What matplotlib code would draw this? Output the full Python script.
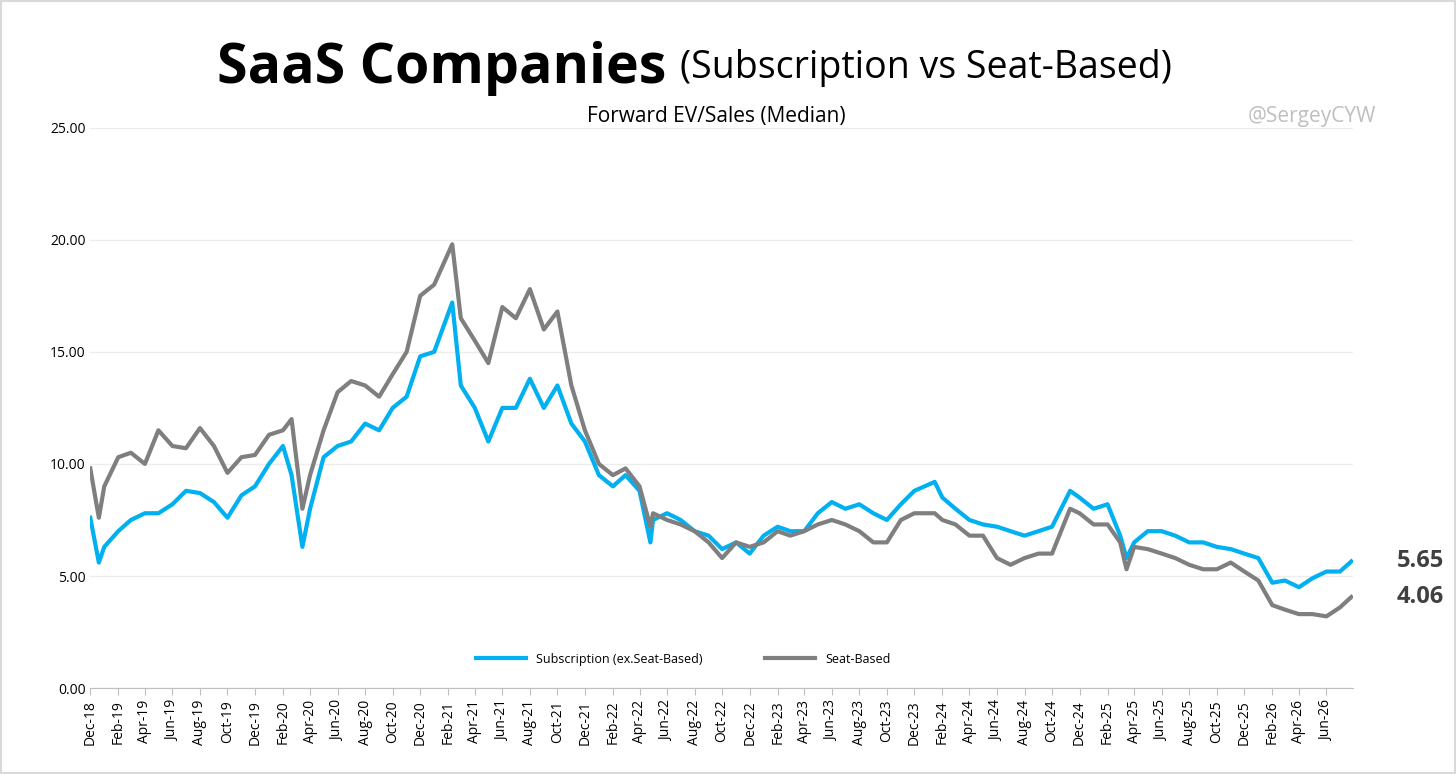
import numpy as np
import pandas as pd
import matplotlib
matplotlib.use("Agg")
import matplotlib.pyplot as plt
import matplotlib.dates as mdates

plt.rcParams["font.family"] = ["Open Sans", "DejaVu Sans"]

# ---- data (approx. monthly) ----
dates = pd.to_datetime([
    "2018-12-01", "2018-12-20", "2019-01-01", "2019-02-01", "2019-03-01", "2019-04-01", "2019-05-01",
    "2019-06-01", "2019-07-01", "2019-08-01", "2019-09-01", "2019-10-01", "2019-11-01", "2019-12-01",
    "2020-01-01", "2020-02-01", "2020-02-20", "2020-03-15", "2020-04-01", "2020-05-01", "2020-06-01",
    "2020-07-01", "2020-08-01", "2020-09-01", "2020-10-01", "2020-11-01", "2020-12-01", "2021-01-01",
    "2021-02-10", "2021-03-01", "2021-04-01", "2021-05-01", "2021-06-01", "2021-07-01", "2021-08-01",
    "2021-09-01", "2021-10-01", "2021-11-01", "2021-12-01", "2022-01-01", "2022-02-01", "2022-03-01",
    "2022-04-01", "2022-04-25", "2022-05-01", "2022-06-01", "2022-07-01", "2022-08-01", "2022-09-01",
    "2022-10-01", "2022-11-01", "2022-12-01", "2023-01-01", "2023-02-01", "2023-03-01", "2023-04-01",
    "2023-05-01", "2023-06-01", "2023-07-01", "2023-08-01", "2023-09-01", "2023-10-01", "2023-11-01",
    "2023-12-01", "2024-01-15", "2024-02-01", "2024-03-01", "2024-04-01", "2024-05-01", "2024-06-01",
    "2024-07-01", "2024-08-01", "2024-09-01", "2024-10-01", "2024-11-10", "2024-12-01", "2025-01-01",
    "2025-02-01", "2025-03-01", "2025-03-15", "2025-04-01", "2025-05-01", "2025-06-01", "2025-07-01",
    "2025-08-01", "2025-09-01", "2025-10-01", "2025-11-01", "2025-12-01", "2026-01-01", "2026-02-01",
    "2026-03-01", "2026-04-01", "2026-05-01", "2026-06-01", "2026-07-01", "2026-07-26",
])
subscription = [
    7.6, 5.6, 6.3, 7.0, 7.5, 7.8, 7.8, 8.2, 8.8, 8.7, 8.3, 7.6, 8.6, 9.0,
    10.0, 10.8, 9.5, 6.3, 8.0, 10.3, 10.8, 11.0, 11.8, 11.5, 12.5, 13.0, 14.8, 15.0,
    17.2, 13.5, 12.5, 11.0, 12.5, 12.5, 13.8, 12.5, 13.5, 11.8, 11.0, 9.5, 9.0, 9.5,
    8.8, 6.5, 7.5, 7.8, 7.5, 7.0, 6.8, 6.2, 6.5, 6.0, 6.8, 7.2, 7.0, 7.0,
    7.8, 8.3, 8.0, 8.2, 7.8, 7.5, 8.2, 8.8, 9.2, 8.5, 8.0, 7.5, 7.3, 7.2,
    7.0, 6.8, 7.0, 7.2, 8.8, 8.5, 8.0, 8.2, 6.8, 5.8, 6.5, 7.0, 7.0, 6.8,
    6.5, 6.5, 6.3, 6.2, 6.0, 5.8, 4.7, 4.8, 4.5, 4.9, 5.2, 5.2, 5.65,
]
seat_based = [
    9.8, 7.6, 9.0, 10.3, 10.5, 10.0, 11.5, 10.8, 10.7, 11.6, 10.8, 9.6, 10.3, 10.4,
    11.3, 11.5, 12.0, 8.0, 9.5, 11.5, 13.2, 13.7, 13.5, 13.0, 14.0, 15.0, 17.5, 18.0,
    19.8, 16.5, 15.5, 14.5, 17.0, 16.5, 17.8, 16.0, 16.8, 13.5, 11.5, 10.0, 9.5, 9.8,
    9.0, 7.2, 7.8, 7.5, 7.3, 7.0, 6.5, 5.8, 6.5, 6.3, 6.5, 7.0, 6.8, 7.0,
    7.3, 7.5, 7.3, 7.0, 6.5, 6.5, 7.5, 7.8, 7.8, 7.5, 7.3, 6.8, 6.8, 5.8,
    5.5, 5.8, 6.0, 6.0, 8.0, 7.8, 7.3, 7.3, 6.5, 5.3, 6.3, 6.2, 6.0, 5.8,
    5.5, 5.3, 5.3, 5.6, 5.2, 4.8, 3.7, 3.5, 3.3, 3.3, 3.2, 3.6, 4.06,
]

CYAN = "#00B0F0"
GREY = "#7F7F7F"

fig = plt.figure(figsize=(14.56, 7.74), dpi=100)
ax = fig.add_axes([0.062, 0.111, 0.867, 0.724])

ax.plot(dates, subscription, color=CYAN, lw=3, label="Subscription (ex.Seat-Based)")
ax.plot(dates, seat_based, color=GREY, lw=3, label="Seat-Based")

ax.set_ylim(0, 25)
ax.set_yticks(np.arange(0, 26, 5))
ax.yaxis.set_major_formatter(matplotlib.ticker.FormatStrFormatter("%.2f"))
ax.grid(axis="y", color="#EDEDED", lw=1)
ax.set_axisbelow(True)

ax.set_xlim(pd.Timestamp("2018-12-01"), pd.Timestamp("2026-07-29"))
ax.xaxis.set_major_locator(mdates.MonthLocator(bymonth=[2, 4, 6, 8, 10, 12]))
ax.xaxis.set_major_formatter(mdates.DateFormatter("%b-%y"))
plt.setp(ax.get_xticklabels(), rotation=90, fontsize=10)
ax.tick_params(axis="y", labelsize=10, length=0)
ax.tick_params(axis="x", length=5, color="#BFBFBF")

for s in ["top", "right", "left"]:
    ax.spines[s].set_visible(False)
ax.spines["bottom"].set_color("#BFBFBF")

# end labels
ax.text(1.035, subscription[-1], f"{subscription[-1]:.2f}", transform=ax.get_yaxis_transform(),
        fontsize=17, fontweight="bold", color="#404040", va="center")
ax.text(1.035, seat_based[-1], f"{seat_based[-1]:.2f}", transform=ax.get_yaxis_transform(),
        fontsize=17, fontweight="bold", color="#404040", va="center")

ax.legend(loc="lower center", bbox_to_anchor=(0.47, 0.02), ncol=2, frameon=False,
          fontsize=9, handlelength=4, columnspacing=5)

# titles
fig.text(0.458, 0.912, "SaaS Companies", fontsize=40, fontweight="bold", ha="right", va="center")
fig.text(0.467, 0.912, "(Subscription vs Seat-Based)", fontsize=27, ha="left", va="center")
fig.text(0.492, 0.849, "Forward EV/Sales (Median)", fontsize=15, ha="center", va="center")
fig.text(0.945, 0.849, "@SergeyCYW", fontsize=15, color="#BFBFBF", ha="right", va="center")

fig.patches.append(plt.Rectangle((0.001, 0.001), 0.998, 0.998, transform=fig.transFigure,
                                 fill=False, edgecolor="#D9D9D9", lw=1.5))

fig.savefig("out.png", dpi=100, facecolor="white")
